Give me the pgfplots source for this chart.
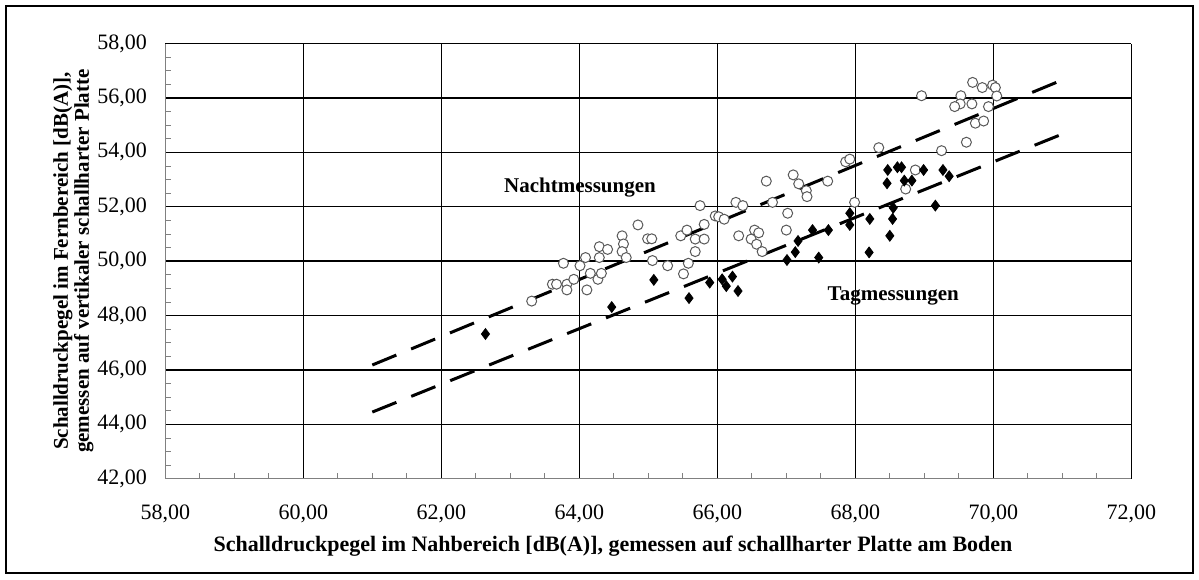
\documentclass[border=0pt]{standalone}
\usepackage{pgfplots}
\pgfplotsset{compat=1.18}
\usepackage{fontspec}
\setmainfont{Liberation Serif}
\begin{document}
\begin{tikzpicture}[font=\fontsize{11}{12}\selectfont]
\useasboundingbox (0,0) rectangle (599.5pt,289.5pt);
\draw[line width=1.3pt] (3pt,3pt) rectangle (596.5pt,286.5pt);
\begin{axis}[
 at={(82.65pt,50.15pt)}, anchor=south west,
 scale only axis, width=483pt, height=217.6pt,
 xmin=58, xmax=72, ymin=42, ymax=58,
 xtick={58,60,...,72}, ytick={42,44,...,58},
 minor x tick num=3, minor y tick num=3,
 grid=major, grid style={black, line width=0.7pt},
 axis x line*=bottom, axis y line*=left,
 axis line style={gray, line width=0.6pt, -},
 major tick length=0pt, minor tick length=3pt, tick align=inside,
 minor tick style={gray, line width=0.4pt},
 /pgf/number format/fixed,
 /pgf/number format/fixed zerofill,
 /pgf/number format/precision=2,
 /pgf/number format/use comma,
 /pgf/number format/1000 sep={},
 /pgf/number format/assume math mode=true,
 xticklabel style={anchor=base, yshift=-20.5pt},
 yticklabel style={anchor=east, xshift=-5.65pt},
 xlabel={Schalldruckpegel im Nahbereich [dB(A)], gemessen auf schallharter Platte am Boden},
 ylabel={Schalldruckpegel im Fernbereich [dB(A)],\\gemessen auf vertikaler schallharter Platte},
 every axis x label/.style={at={(axis description cs:0.4635,-0.156)}, anchor=center, font=\fontsize{11}{12}\selectfont\bfseries},
 every axis y label/.style={at={(axis description cs:-0.0952,0.5)}, anchor=center, rotate=90, align=center, font=\fontsize{10.5}{10.5}\selectfont\bfseries},
 clip=false,
]
\addplot[only marks, mark=*, mark size=2.5pt, mark options={fill=white, draw=black!65, line width=0.5pt}] coordinates {
(63.31,48.53) (63.61,49.15) (63.67,49.15) (63.82,49.15) (63.82,48.94) (63.77,49.92)
(63.92,49.33) (64.01,49.83) (64.09,50.13) (64.11,48.94) (64.16,49.55) (64.29,50.53)
(64.29,50.13) (64.27,49.33) (64.32,49.55) (64.41,50.43) (64.62,50.93) (64.64,50.63)
(64.62,50.35) (64.68,50.13) (64.85,51.33) (64.99,50.82) (65.05,50.82) (65.06,50.02)
(65.28,49.83) (65.51,49.53) (65.58,49.92) (65.68,50.35) (65.47,50.93) (65.56,51.14)
(65.68,50.81) (65.81,50.81) (65.81,51.35) (65.75,52.04) (65.97,51.66) (66.02,51.63)
(66.10,51.54) (66.27,52.16) (66.37,52.04) (66.31,50.93) (66.49,50.81) (66.54,51.14)
(66.60,51.04) (66.57,50.62) (66.65,50.35) (66.71,52.94) (66.80,52.16) (67.02,51.76)
(67.00,51.14) (67.10,53.17) (67.18,52.84) (67.29,52.59) (67.30,52.37) (67.60,52.94)
(67.86,53.65) (67.92,53.75) (67.99,52.16) (68.34,54.17) (68.87,53.35) (68.73,52.65)
(69.25,54.06) (68.96,56.08) (69.70,56.57) (69.84,56.38) (69.99,56.47) (70.03,56.38)
(70.05,56.07) (69.53,56.08) (69.52,55.78) (69.44,55.68) (69.69,55.78) (69.93,55.68)
(69.74,55.07) (69.86,55.15) (69.61,54.37)
};
\addplot[black, line width=1.5pt, dash pattern=on 13pt off 8pt] coordinates {(61,46.18) (71,56.66)};
\addplot[black, line width=1.5pt, dash pattern=on 13pt off 8pt] coordinates {(61,44.45) (71,54.67)};
\addplot[only marks, mark=diamond*, mark size=2.7pt, mark options={fill=black, draw=black}] coordinates {
(62.64,47.32) (64.47,48.31) (65.08,49.31) (65.59,48.64) (65.89,49.21) (66.07,49.33)
(66.13,49.08) (66.22,49.43) (66.30,48.90) (67.01,50.04) (67.13,50.33) (67.17,50.74)
(67.38,51.14) (67.61,51.14) (67.47,50.13) (67.92,51.76) (67.92,51.33) (68.21,51.55)
(68.20,50.32) (68.47,53.35) (68.46,52.86) (68.61,53.45) (68.67,53.45) (68.71,52.96)
(68.82,52.96) (68.55,51.96) (68.54,51.55) (68.50,50.93) (68.99,53.35) (69.16,52.04)
(69.27,53.35) (69.36,53.12)
};
\node[font=\fontsize{10.5}{11.5}\selectfont\bfseries] at (axis cs:64.01,52.72) {Nachtmessungen};
\node[font=\fontsize{10.5}{11.5}\selectfont\bfseries] at (axis cs:68.55,48.72) {Tagmessungen};
\end{axis}
\end{tikzpicture}
\end{document}
